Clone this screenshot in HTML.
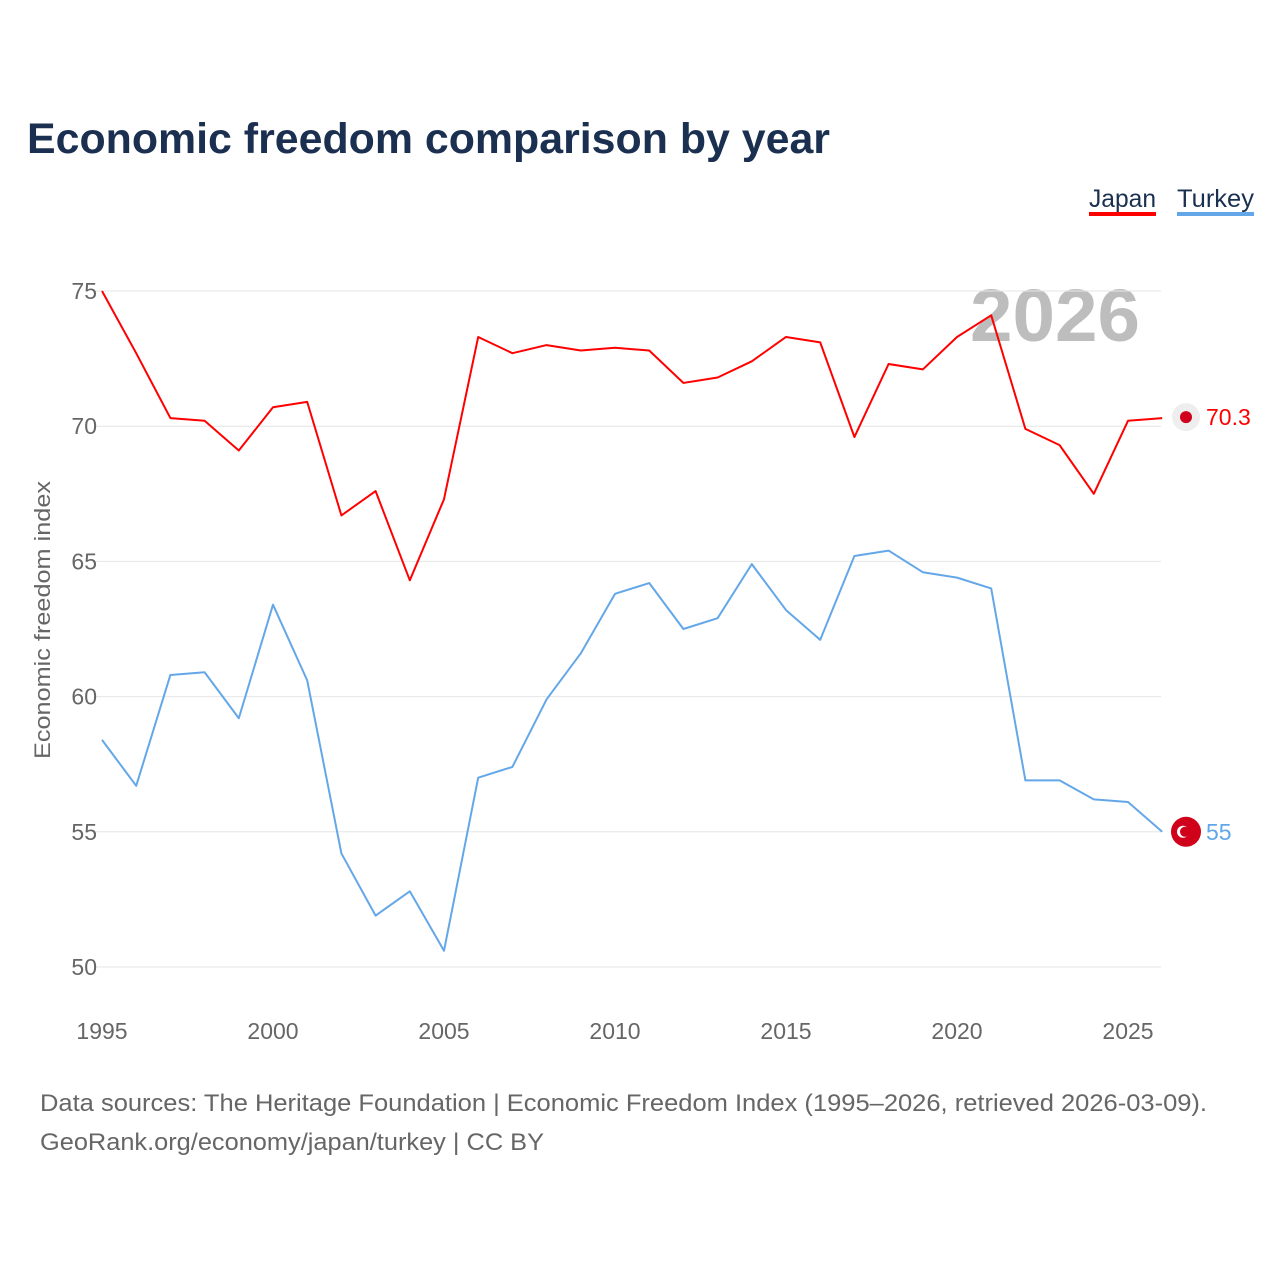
<!DOCTYPE html>
<html><head><meta charset="utf-8"><style>
body{margin:0;background:#fff;font-family:"Liberation Sans",sans-serif;}
svg text{font-family:"Liberation Sans",sans-serif;}
</style></head><body>
<svg id="chart" width="1280" height="1280" xmlns="http://www.w3.org/2000/svg">
<text x="27" y="153" font-size="43" font-weight="bold" fill="#1b3050" textLength="803" lengthAdjust="spacingAndGlyphs">Economic freedom comparison by year</text>
<g><text x="1089" y="207" font-size="25" fill="#1b3050" textLength="67" lengthAdjust="spacingAndGlyphs">Japan</text><rect x="1089" y="212" width="67" height="4" fill="#ff0000"/></g>
<g><text x="1177" y="207" font-size="25" fill="#1b3050" textLength="77" lengthAdjust="spacingAndGlyphs">Turkey</text><rect x="1177" y="212" width="77" height="4" fill="#64a7e8"/></g>
<text x="1140" y="341" font-size="74" font-weight="bold" fill="#bdbdbd" text-anchor="end" textLength="170" lengthAdjust="spacingAndGlyphs">2026</text>
<text transform="translate(50,620) rotate(-90)" font-size="22" fill="#666" text-anchor="middle" textLength="278" lengthAdjust="spacingAndGlyphs">Economic freedom index</text>
<g id="grid"></g><g id="lines"></g><g id="labels"></g>
<text x="40" y="1111" font-size="24" fill="#666" textLength="1167" lengthAdjust="spacingAndGlyphs">Data sources: The Heritage Foundation | Economic Freedom Index (1995–2026, retrieved 2026-03-09).</text>
<text x="40" y="1150" font-size="24" fill="#666" textLength="504" lengthAdjust="spacingAndGlyphs">GeoRank.org/economy/japan/turkey | CC BY</text>
</svg>
<script>
const years=[1995,1996,1997,1998,1999,2000,2001,2002,2003,2004,2005,2006,2007,2008,2009,2010,2011,2012,2013,2014,2015,2016,2017,2018,2019,2020,2021,2022,2023,2024,2025,2026];
const japan=[75.0,72.7,70.3,70.2,69.1,70.7,70.9,66.7,67.6,64.3,67.3,73.3,72.7,73.0,72.8,72.9,72.8,71.6,71.8,72.4,73.3,73.1,69.6,72.3,72.1,73.3,74.1,69.9,69.3,67.5,70.2,70.3];
const turkey=[58.4,56.7,60.8,60.9,59.2,63.4,60.6,54.2,51.9,52.8,50.6,57.0,57.4,59.9,61.6,63.8,64.2,62.5,62.9,64.9,63.2,62.1,65.2,65.4,64.6,64.4,64.0,56.9,56.9,56.2,56.1,55.0];
const yTicks=[50,55,60,65,70,75];
const xTicks=[1995,2000,2005,2010,2015,2020,2025];
const NS="http://www.w3.org/2000/svg";
const xs=y=>102+(y-1995)*(1128-102)/30;
const ys=v=>967-(v-50)*(967-291)/25;
function mk(t,a,p){const e=document.createElementNS(NS,t);for(const k in a)e.setAttribute(k,a[k]);p.appendChild(e);return e;}
const g=document.getElementById('grid'),L=document.getElementById('lines'),lb=document.getElementById('labels');
yTicks.forEach(v=>{const l=mk('line',{x1:95,x2:1161,y1:ys(v),y2:ys(v),stroke:'#e6e6e6','stroke-width':1},g);


const t=mk('text',{x:97,y:ys(v)+8,'font-size':23,fill:'#666','text-anchor':'end'},g);t.textContent=v;

});
xTicks.forEach(y=>{const t=mk('text',{x:xs(y),y:1039,'font-size':23,fill:'#666','text-anchor':'middle'},g);t.textContent=y;

});
function series(d,c,n){const p=mk('polyline',{points:d.map((v,i)=>xs(years[i])+','+ys(v)).join(' '),fill:'none',stroke:c,'stroke-width':2,'stroke-linejoin':'round'},L);

}
series(japan,'#ff0000','japan');series(turkey,'#64a7e8','turkey');
const jl=japan[japan.length-1],tl=turkey[turkey.length-1];
const c1=mk('circle',{cx:1186,cy:ys(jl)-1,r:14,fill:'#eeeeee'},lb);


mk('circle',{cx:1186,cy:ys(jl)-1,r:6,fill:'#d0021b'},lb);
const c2=mk('circle',{cx:1186,cy:ys(tl),r:15,fill:'#d0021b'},lb);


mk('circle',{cx:1183,cy:ys(tl),r:6,fill:'#fff'},lb);mk('circle',{cx:1185,cy:ys(tl),r:5,fill:'#d0021b'},lb);
const t1=mk('text',{x:1206,y:ys(jl)+7,'font-size':23,fill:'#ff0000'},lb);t1.textContent=jl;


const t2=mk('text',{x:1206,y:ys(tl)+8,'font-size':23,fill:'#64a7e8'},lb);t2.textContent=tl;


</script>
</body></html>
